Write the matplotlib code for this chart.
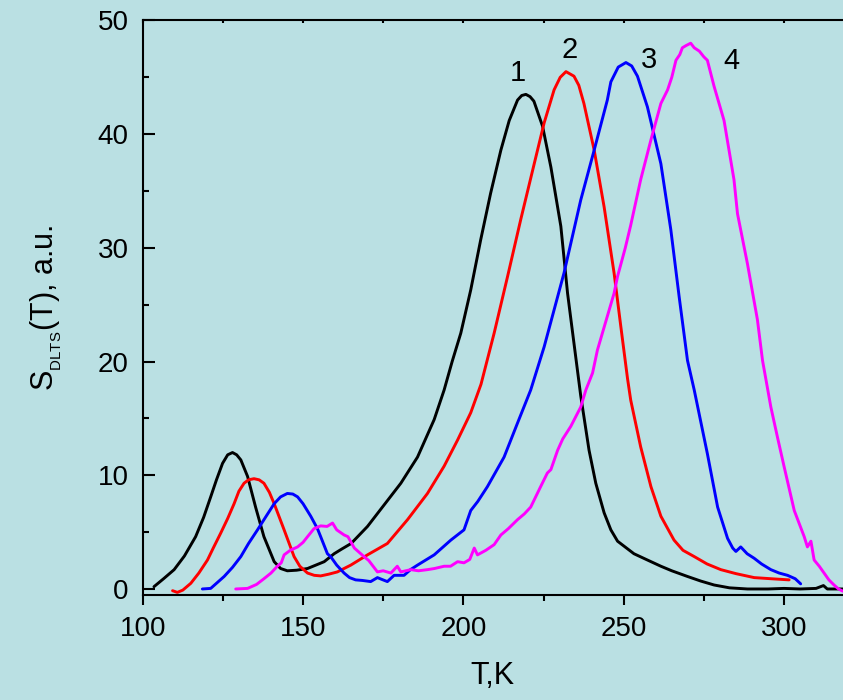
import matplotlib
matplotlib.use("Agg")
import matplotlib.pyplot as plt
from matplotlib.ticker import MultipleLocator

plt.rcParams['font.family'] = ['Liberation Sans', 'DejaVu Sans']
plt.rcParams['mathtext.fontset'] = 'custom'
plt.rcParams['mathtext.rm'] = 'Liberation Sans'

# Curve 1 (black)
T1 = [103.5, 106.5, 109.8, 113, 116.5, 119, 121.2, 123, 124.9, 126.5, 128, 129.3, 130.6, 132.7,
      135.2, 137.8, 141, 143, 145.1, 148, 151.4, 156.6, 159.7, 162, 165, 170.1, 175.3, 180.5,
      185.7, 190.9, 194, 196.5, 199.2, 202.3, 205.4, 208.5, 211.7, 214.3, 216.9, 218.2, 219.5,
      220.8, 222, 224.7, 227.3, 230.4, 232.5, 234.5, 236.6, 239.2, 241.3, 243.9, 246, 248.1,
      253.2, 257, 261.6, 265, 269.9, 274, 278.2, 283, 288.6, 295, 300, 305, 310, 312.3, 313.5,
      318.4]
S1 = [0.2, 0.9, 1.7, 2.9, 4.6, 6.3, 8.1, 9.6, 11.05, 11.8, 12.0, 11.8, 11.35, 9.9,
      7.2, 4.6, 2.4, 1.8, 1.6, 1.65, 1.8, 2.4, 3.1, 3.5, 4.0, 5.5, 7.4, 9.3,
      11.6, 14.9, 17.5, 20.0, 22.5, 26.3, 30.7, 34.8, 38.6, 41.2, 43.0, 43.4, 43.5,
      43.3, 42.9, 40.7, 37.1, 31.9, 26.0, 21.6, 17.0, 12.2, 9.3, 6.7, 5.2, 4.2,
      3.1, 2.6, 2.0, 1.6, 1.1, 0.7, 0.35, 0.1, 0.0, 0.0, 0.05, 0.0, 0.05, 0.3, 0.0,
      0.0]

# Curve 2 (red)
T2 = [109.3, 110.8, 112.5, 115, 117.5, 120.2, 122, 124.3, 126.5, 128.5, 130, 131.6, 133, 134.7,
      136.3, 137.8, 139.5, 141, 144.1, 147.2, 149, 151.4, 153.5, 155.5, 158, 160.7, 164.9,
      170.1, 176.3, 182.6, 188.8, 194, 198.2, 202.3, 205.5, 209.6, 213.8, 217.9, 222.1, 225.2,
      228.3, 230.2, 232, 234.5, 236, 237.6, 240.8, 243.9, 247, 249.1, 251.2, 252.2, 255.3,
      258.5, 261.6, 265.7, 268.5, 272, 276, 280.3, 285, 290.7, 296, 301.6]
S2 = [-0.15, -0.3, -0.1, 0.5, 1.4, 2.55, 3.6, 4.9, 6.2, 7.5, 8.6, 9.3, 9.6, 9.7,
      9.6, 9.3, 8.5, 7.5, 5.2, 2.85, 2.0, 1.4, 1.2, 1.15, 1.3, 1.5, 2.1,
      3.0, 4.0, 6.1, 8.4, 10.8, 13.1, 15.5, 18.0, 22.5, 27.5, 32.5, 37.4, 41.0,
      43.9, 45.0, 45.5, 45.1, 44.3, 42.7, 38.6, 33.6, 27.8, 23.1, 18.5, 16.6, 12.5,
      9.0, 6.4, 4.3, 3.4, 2.85, 2.2, 1.7, 1.35, 1.0, 0.9, 0.8]

# Curve 3 (blue)
T3 = [118.6, 121.2, 123, 125.4, 128, 130.6, 133, 135.8, 138.5, 141, 143, 145.1, 146.8, 148.3,
      150, 152.4, 154.5, 155.5, 157.6, 158.6, 160.5, 162.8, 164.5, 166.4, 168.5, 171.1, 173.2,
      174.5, 176.3, 178.4, 181.5, 183.5, 185.7, 190.9, 196.1, 200.2, 202.3, 204.5, 207.5,
      212.7, 216.9, 221, 225.2, 231.4, 236.6, 240.8, 243.5, 244.9, 246, 248.3, 250.7, 252.5,
      254.3, 257.4, 261.6, 264.7, 267.3, 269.9, 272, 276.1, 279.3, 282.4, 284, 285, 286.5,
      288.5, 290.7, 293, 295.9, 298.5, 301.1, 303.5, 305.2]
S3 = [0.0, 0.05, 0.5, 1.1, 1.9, 2.85, 4.0, 5.2, 6.4, 7.5, 8.1, 8.4, 8.35, 8.1,
      7.5, 6.4, 5.3, 4.6, 3.1, 2.85, 2.1, 1.4, 1.0, 0.8, 0.75, 0.65, 1.0,
      0.85, 0.65, 1.2, 1.2, 1.7, 2.1, 3.0, 4.3, 5.2, 6.9, 7.7, 9.0,
      11.6, 14.6, 17.5, 21.3, 27.8, 34.2, 38.6, 41.5, 43.0, 44.6, 45.9, 46.3, 46.0,
      45.1, 42.4, 37.4, 31.6, 25.7, 20.1, 17.5, 11.9, 7.2, 4.45, 3.6, 3.3, 3.7,
      3.1, 2.7, 2.2, 1.7, 1.4, 1.2, 0.9, 0.45]

# Curve 4 (magenta)
T4 = [129, 132.7, 135.5, 137.8, 140, 142, 143.2, 144.1, 146, 148.3, 150, 151.4, 153.4, 155.5,
      157.5, 159.2, 160.5, 162.8, 164, 166, 169, 170.5, 173.2, 175, 177.4, 179.4, 180.5, 183.6,
      186, 188.8, 191, 194, 196, 198.2, 200.2, 202, 203.4, 204.4, 207, 209.6, 211.7, 214,
      216.9, 219, 221, 224.1, 226.2, 227.3, 229.4, 231, 233.5, 236.6, 238.2, 240.3, 241.8,
      244.5, 247, 248.1, 250.5, 252.2, 255.3, 258.5, 261.6, 263.7, 265, 266.3, 267.5, 268.3,
      269.5, 270.9, 272, 273.6, 275, 276.1, 278.2, 281.3, 284.4, 285.5, 288.6, 291.7, 293.3,
      295.9, 298, 300, 303.2, 306.3, 307.3, 308.4, 309.4, 311, 312.5, 314, 315.6, 317, 318.4]
S4 = [0.0, 0.05, 0.4, 0.9, 1.4, 2.0, 2.3, 3.0, 3.4, 3.7, 4.1, 4.6, 5.3, 5.55,
      5.5, 5.8, 5.2, 4.75, 4.6, 3.6, 2.85, 2.5, 1.5, 1.6, 1.4, 2.0, 1.5, 1.7,
      1.6, 1.7, 1.8, 2.0, 2.0, 2.4, 2.3, 2.6, 3.6, 3.0, 3.4, 3.9, 4.75, 5.3,
      6.1, 6.6, 7.2, 9.0, 10.2, 10.5, 12.2, 13.2, 14.3, 16.0, 17.5, 19.0, 21.0,
      23.6, 26.0, 27.5, 30.0, 32.0, 36.0, 39.5, 42.7, 43.9, 45.0, 46.5, 47.0, 47.6,
      47.8, 48.0, 47.6, 47.3, 46.8, 46.5, 44.2, 41.2, 36.0, 33.0, 28.6, 23.7, 20.1,
      16.0, 13.3, 10.8, 6.9, 4.6, 3.7, 4.2, 2.55, 2.0, 1.4, 0.8, 0.35, 0.0, -0.2]

curve_labels = ["1", "2", "3", "4"]
label_T = [217, 233.2, 257.8, 283.7]
label_S = [45.4, 47.4, 46.5, 46.4]
colors = ["black", "#ff0000", "#0000ff", "#ff00ff"]

bg = "#bae0e3"
fig = plt.figure(figsize=(8.43, 7.0), dpi=100, facecolor=bg)
ax = fig.add_axes([0.1693, 0.15, 1 - 0.1693, 0.8214])
ax.set_facecolor(bg)

for T, S, c in zip([T1, T2, T3, T4], [S1, S2, S3, S4], colors):
    ax.plot(T, S, color=c, lw=2.1, solid_joinstyle='round', solid_capstyle='round')

for lab, tx, sy in zip(curve_labels, label_T, label_S):
    ax.text(tx, sy, lab, fontsize=21, ha="center", va="center", color="black")

ax.set_xlim(100, 318.4)
ax.set_ylim(-0.53, 50.04)

ax.xaxis.set_major_locator(MultipleLocator(50))
ax.xaxis.set_minor_locator(MultipleLocator(25))
ax.yaxis.set_major_locator(MultipleLocator(10))
ax.yaxis.set_minor_locator(MultipleLocator(5))

ax.spines['right'].set_visible(False)
for s in ['left', 'top', 'bottom']:
    ax.spines[s].set_linewidth(1.5)

ax.tick_params(axis='x', which='major', direction='out', length=7, width=1.5,
               labelsize=20, pad=8, top=True)
ax.tick_params(axis='x', which='minor', direction='out', length=4, width=1.5, top=True)
ax.tick_params(axis='y', which='major', direction='in', length=8.5, width=1.5,
               labelsize=20, pad=10)
ax.tick_params(axis='y', which='minor', direction='in', length=4, width=1.5)

# top ticks small and inward
for t in ax.xaxis.get_major_ticks() + ax.xaxis.get_minor_ticks():
    t.tick2line.set_markersize(2)
    t.tick2line.set_marker(3)  # TICKDOWN

ax.set_xlabel("T,K", fontsize=22, labelpad=14)
ax.set_ylabel(r"S$_{_{\mathregular{DLTS}}}$(T), a.u.", fontsize=22, labelpad=24)

fig.savefig("out.png", dpi=100, facecolor=bg)
